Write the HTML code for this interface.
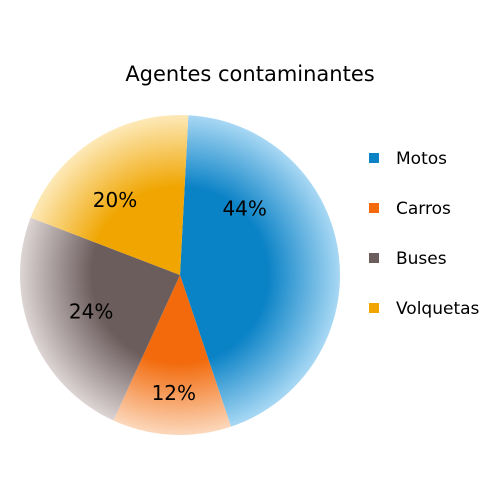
<!DOCTYPE html>
<html><head><meta charset="utf-8"><style>
html,body{margin:0;padding:0;background:#fff}
svg{display:block;font-family:"DejaVu Sans","Liberation Sans",sans-serif}
</style></head><body>
<svg id="chart" width="500" height="500" viewBox="0 0 500 500">
<defs id="defs"></defs>
<text x="250" y="81" text-anchor="middle" font-size="21" fill="#000">Agentes contaminantes</text>
<g id="slices"></g>
<g id="labels"></g>
<g id="legend"></g>
</svg>
<script>
const categories = ["Motos","Carros","Buses","Volquetas"];
const values = [44,12,24,20];
const valueLabels = ["44%","12%","24%","20%"];
const baseColors = ["#0a82c6","#f26a0c","#6c5d5d","#f0a500"];
const edgeColors = ["#a8d8f4","#fcd8bc","#ddd4d4","#fde9b8"];
// label layout: angle offset within slice (fraction) and radius fraction
const labelFrac = [0.26,0.5,0.5,0.39];
const labelRad = [0.58,0.74,0.6,0.62];

const NS="http://www.w3.org/2000/svg";
const cx=180, cy=275, r=160, startDeg=3;
const defs=document.getElementById('defs');
const gS=document.getElementById('slices'), gL=document.getElementById('labels'), gLeg=document.getElementById('legend');
const total=values.reduce((a,b)=>a+b,0);
function pt(deg,rad){const a=deg*Math.PI/180;return [cx+rad*Math.sin(a), cy-rad*Math.cos(a)];}
let acc=startDeg;
values.forEach((v,i)=>{
  const sweep=v/total*360, a0=acc, a1=acc+sweep; acc=a1;
  const grad=document.createElementNS(NS,'radialGradient');
  grad.setAttribute('id','g'+i);
  grad.setAttribute('gradientUnits','userSpaceOnUse');
  grad.setAttribute('cx',cx);grad.setAttribute('cy',cy);grad.setAttribute('r',r);
  grad.innerHTML='<stop offset="0" stop-color="'+baseColors[i]+'"/><stop offset="0.55" stop-color="'+baseColors[i]+'"/><stop offset="1" stop-color="'+edgeColors[i]+'"/>';
  defs.appendChild(grad);
  const [x0,y0]=pt(a0,r),[x1,y1]=pt(a1,r);
  const p=document.createElementNS(NS,'path');
  p.setAttribute('d','M'+cx+','+cy+' L'+x0+','+y0+' A'+r+','+r+' 0 '+(sweep>180?1:0)+' 1 '+x1+','+y1+' Z');
  p.setAttribute('fill','url(#g'+i+')');
  
  
  gS.appendChild(p);
  const [lx,ly]=pt(a0+sweep*labelFrac[i], r*labelRad[i]);
  const t=document.createElementNS(NS,'text');
  t.setAttribute('x',lx);t.setAttribute('y',ly+7);
  t.setAttribute('text-anchor','middle');t.setAttribute('font-size','20');
  t.textContent=valueLabels[i];
  
  
  gL.appendChild(t);
  const y=158+i*50;
  const sq=document.createElementNS(NS,'rect');
  sq.setAttribute('x',369);sq.setAttribute('y',y-5);sq.setAttribute('width',10);sq.setAttribute('height',10);
  sq.setAttribute('fill',baseColors[i]);
  
  
  gLeg.appendChild(sq);
  const lt=document.createElementNS(NS,'text');
  lt.setAttribute('x',396);lt.setAttribute('y',y+6);lt.setAttribute('font-size','17');
  lt.textContent=categories[i];
  
  
  gLeg.appendChild(lt);
});
</script>
</body></html>
